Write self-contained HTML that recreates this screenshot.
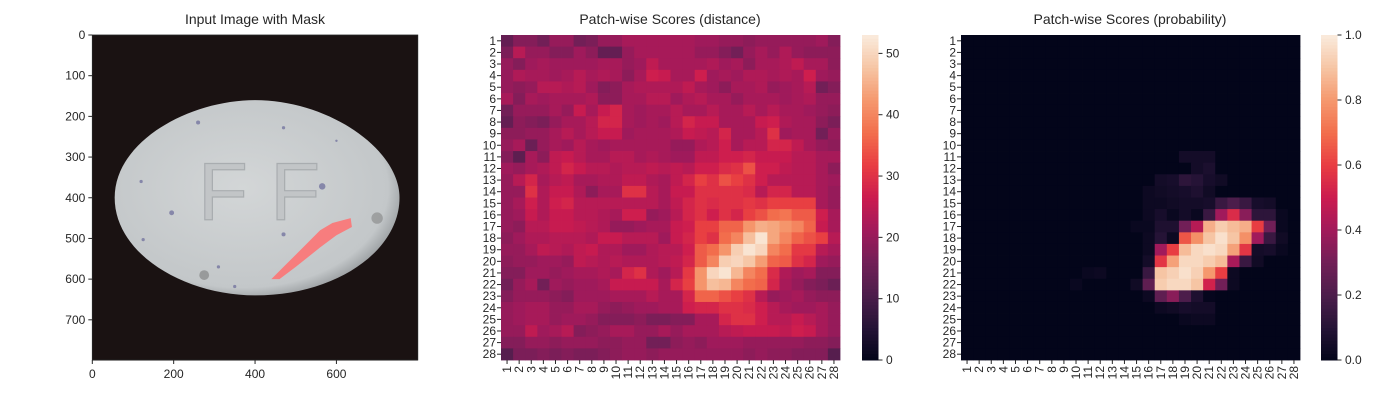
<!DOCTYPE html>
<html><head><meta charset="utf-8">
<style>
html,body{margin:0;padding:0;background:#fff;}
svg{display:block;font-family:"Liberation Sans",Arial,sans-serif;}
</style></head>
<body>
<svg id="fig" width="1400" height="400" viewBox="0 0 1400 400" xmlns="http://www.w3.org/2000/svg">
<defs>
<radialGradient id="pillGrad" cx="0.45" cy="0.45" r="0.6">
<stop offset="0" stop-color="#d3d6d7"/><stop offset="0.85" stop-color="#c3c7c9"/><stop offset="1" stop-color="#8d9194"/>
</radialGradient>
</defs>
<g id="p1">
<text x="255" y="24" font-size="14" text-anchor="middle" fill="#262626">Input Image with Mask</text>
<g transform="translate(92.3,35) scale(0.4069)">
<rect x="0" y="0" width="800" height="800" fill="#1a1212"/>
<path d="M55,400 C55,260 240,160 400,160 C580,160 755,280 755,400 C755,530 600,640 400,640 C230,640 55,540 55,400 Z" fill="url(#pillGrad)"/>
<text x="260" y="455" font-size="200" fill="#c2c5c7" stroke="#a9adb0" stroke-width="3">F F</text>
<g fill="#6a6a9a" opacity="0.7">
<circle cx="260" cy="215" r="5"/><circle cx="470" cy="228" r="4"/><circle cx="565" cy="372" r="8"/><circle cx="195" cy="437" r="6"/><circle cx="125" cy="503" r="4"/><circle cx="470" cy="490" r="5"/><circle cx="310" cy="570" r="4"/><circle cx="350" cy="618" r="4"/><circle cx="600" cy="260" r="3"/><circle cx="120" cy="360" r="4"/>
</g>
<circle cx="700" cy="450" r="14" fill="#777" opacity="0.5"/>
<circle cx="275" cy="590" r="12" fill="#6b6b6b" opacity="0.5"/>
<polygon points="440,600 470,570 530,510 560,480 590,462 635,450 638,472 600,492 560,522 500,570 460,600" fill="#ff7070" opacity="0.85"/>
</g>
<g id="p1axes" font-size="12" fill="#262626"></g>
</g>
<g id="p2">
<text x="670" y="24" font-size="14" text-anchor="middle" fill="#262626">Patch-wise Scores (distance)</text>
</g>
<g id="p3">
<text x="1130" y="24" font-size="14" text-anchor="middle" fill="#262626">Patch-wise Scores (probability)</text>
</g>
</svg>
<script>
const imgTicks = [0,100,200,300,400,500,600,700];
const imgXTicks = [0,200,400,600];
const distTicks = [0,10,20,30,40,50];
const probTicks = [0,0.2,0.4,0.6,0.8,1.0];
const distMax = 53;
const distRows = [
[14,18,18,16,20,20,16,17,20,20,22,22,22,22,22,22,21,21,20,20,19,20,20,20,20,20,21,18],
[17,24,20,20,18,18,21,19,14,14,20,22,22,22,22,22,20,20,18,16,20,22,20,23,20,19,19,19],
[20,18,21,22,21,21,21,21,22,22,20,21,25,22,22,22,22,23,21,22,19,22,22,23,25,22,22,19],
[20,23,22,22,21,22,24,22,23,22,19,22,27,26,22,22,27,21,22,21,23,23,22,23,22,27,21,20],
[20,19,20,24,24,23,24,21,18,19,22,23,23,23,23,25,22,21,19,22,22,23,20,21,22,24,16,18],
[22,18,22,21,22,22,22,23,19,19,22,22,24,24,21,23,24,22,22,20,22,22,22,21,22,23,20,20],
[16,20,20,20,22,20,26,22,26,28,22,21,22,22,24,22,22,24,22,22,24,22,24,22,22,21,20,19],
[14,19,18,17,20,22,22,24,28,28,22,21,22,21,24,28,26,26,22,22,22,26,27,23,22,22,19,17],
[19,19,20,20,22,24,22,24,26,26,21,22,22,22,23,26,25,24,28,22,22,24,30,21,22,22,16,20],
[20,22,15,20,22,21,24,22,21,22,22,22,22,22,20,20,23,24,27,22,24,24,28,28,25,22,20,19],
[18,13,22,19,25,26,24,22,22,24,24,22,23,22,21,21,25,25,27,27,28,26,26,26,24,24,22,22],
[21,20,22,23,25,28,26,24,24,23,24,24,25,24,25,24,27,27,29,30,34,27,27,25,24,24,22,19],
[20,24,28,22,24,25,22,22,23,23,25,25,23,22,25,28,32,30,34,32,30,27,24,24,24,24,22,21],
[20,20,30,23,26,26,23,19,22,22,30,30,24,22,26,26,30,30,30,30,29,24,28,28,24,24,22,20],
[20,22,27,23,27,28,24,24,24,24,24,24,24,22,25,28,30,29,30,30,31,30,32,32,32,32,22,20],
[20,21,26,23,26,26,24,24,23,22,27,27,20,21,24,28,30,27,30,28,32,34,37,38,35,35,27,22],
[20,19,24,24,26,26,25,24,23,20,20,21,22,22,26,27,32,32,36,36,42,45,44,42,40,36,26,22],
[19,21,23,23,24,24,24,23,26,26,24,24,24,21,26,28,32,30,37,40,47,52,44,40,36,34,32,24],
[20,20,22,25,24,23,25,26,23,23,21,21,23,24,24,27,35,37,42,49,52,50,40,37,31,31,24,22],
[19,20,20,21,21,20,25,24,23,24,23,23,23,24,25,28,35,40,49,50,48,43,36,35,30,28,21,20],
[18,18,21,21,20,21,22,22,23,22,28,30,23,21,24,31,42,50,52,46,40,37,29,23,21,22,18,18],
[16,20,22,16,21,20,21,21,22,26,26,26,26,22,28,32,42,47,46,40,37,36,28,22,20,18,17,15],
[18,20,20,20,19,18,21,21,21,22,22,22,24,22,22,28,36,36,34,32,30,24,20,21,22,20,19,19],
[20,21,22,22,20,20,22,22,20,19,20,21,21,22,22,27,28,28,30,30,29,27,24,22,21,21,22,20],
[20,21,22,22,20,21,21,20,18,18,18,19,17,17,18,18,22,22,28,30,30,27,24,24,26,24,22,20],
[20,20,25,21,22,24,18,19,20,22,22,20,20,22,20,22,22,22,24,25,26,26,26,25,27,26,22,20],
[18,18,20,20,19,20,20,20,19,19,20,20,16,16,19,20,19,21,21,21,20,20,20,20,20,19,19,18],
[12,17,17,18,17,18,17,17,18,19,20,20,19,20,20,20,20,20,20,20,19,20,19,19,18,18,18,12]
];
// probability: rows of [column(1-based), value]; all other cells are 0
const probEntries = [
[],[],[],[],[],[],[],[],[],[],
[[19,0.05],[20,0.05],[21,0.05]],
[[20,0.05],[21,0.07]],
[[17,0.05],[18,0.06],[19,0.12],[20,0.1],[21,0.06],[22,0.04]],
[[16,0.03],[17,0.04],[18,0.05],[19,0.06],[20,0.08],[21,0.04]],
[[16,0.03],[17,0.03],[18,0.04],[19,0.05],[20,0.05],[21,0.06],[22,0.15],[23,0.2],[24,0.15],[25,0.06],[26,0.05]],
[[16,0.03],[17,0.06],[18,0.02],[19,0.05],[20,0.02],[21,0.15],[22,0.4],[23,0.55],[24,0.35],[25,0.12],[26,0.12],[27,0.02]],
[[15,0.02],[16,0.02],[17,0.08],[18,0.08],[19,0.3],[20,0.45],[21,0.85],[22,0.92],[23,0.88],[24,0.85],[25,0.6],[26,0.3],[27,0.02]],
[[16,0.03],[17,0.1],[18,0.03],[19,0.65],[20,0.78],[21,0.9],[22,0.97],[23,0.9],[24,0.78],[25,0.4],[26,0.15],[27,0.04]],
[[16,0.03],[17,0.4],[18,0.6],[19,0.88],[20,0.95],[21,0.97],[22,0.95],[23,0.82],[24,0.58],[25,0.05],[26,0.06],[27,0.02]],
[[16,0.05],[17,0.58],[18,0.82],[19,0.95],[20,0.95],[21,0.92],[22,0.88],[23,0.42],[24,0.15],[25,0.04]],
[[11,0.02],[12,0.03],[16,0.15],[17,0.9],[18,0.93],[19,0.97],[20,0.93],[21,0.8],[22,0.6],[23,0.03]],
[[10,0.02],[15,0.04],[16,0.25],[17,0.92],[18,0.95],[19,0.95],[20,0.9],[21,0.52],[22,0.3],[23,0.03]],
[[16,0.03],[17,0.25],[18,0.35],[19,0.2],[20,0.08],[21,0.01]],
[[17,0.03],[18,0.04],[19,0.06],[20,0.05],[21,0.05]],
[[19,0.02],[20,0.03],[21,0.03]],
[],[],[]
];
const labels = Array.from({length:28},(_, i)=>String(i+1));

const NS="http://www.w3.org/2000/svg";
const svg=document.getElementById('fig');
function mk(tag,attrs,parent){const e=document.createElementNS(NS,tag);for(const k in attrs)e.setAttribute(k,attrs[k]);(parent||svg).appendChild(e);return e;}
const stops=[[0,3,5,26],[0.1,37,19,54],[0.2,76,29,75],[0.3,113,31,87],[0.4,161,26,91],[0.5,203,27,79],[0.6,232,61,66],[0.7,242,110,76],[0.8,245,152,110],[0.9,246,197,164],[1,250,235,221]];
function rocket(t){t=Math.max(0,Math.min(1,t));for(let i=1;i<stops.length;i++){if(t<=stops[i][0]){const a=stops[i-1],b=stops[i],f=(t-a[0])/(b[0]-a[0]);return `rgb(${Math.round(a[1]+f*(b[1]-a[1]))},${Math.round(a[2]+f*(b[2]-a[2]))},${Math.round(a[3]+f*(b[3]-a[3]))})`;}}return 'rgb(250,235,221)';}

const p1=document.getElementById('p1axes');
const ix0=92.3, iy0=35, isc=325.5/800;
mk('rect',{x:ix0,y:iy0,width:325.5,height:325,fill:'none',stroke:'#262626','stroke-width':0.8},p1);
imgTicks.forEach(v=>{const y=iy0+v*isc;
 const l=mk('line',{x1:ix0-4,x2:ix0,y1:y,y2:y,stroke:'#262626'},p1);
 
 
 const t=mk('text',{x:ix0-7,y:y+4,'text-anchor':'end'},p1);t.textContent=v;
 
 });
imgXTicks.forEach(v=>{const x=ix0+v*isc;
 mk('line',{x1:x,x2:x,y1:360,y2:364,stroke:'#262626'},p1);
 const t=mk('text',{x:x,y:378,'text-anchor':'middle'},p1);t.textContent=v;
 
 });

function heatmap(parent,x0,y0,w,h,valueAt,vmax,cbx,ticks,fmt,name){
 const g=document.getElementById(parent);
 const cw=w/28,ch=h/28;
 for(let r=0;r<28;r++)for(let c=0;c<28;c++){
  const v=valueAt(r,c);
  const rc=mk('rect',{x:x0+c*cw,y:y0+r*ch,width:cw+0.4,height:ch+0.4,fill:rocket(v/vmax)},g);
  
  
 }
 labels.forEach((lab,i)=>{
  const y=y0+(i+0.5)*ch;
  mk('line',{x1:x0-4,x2:x0,y1:y,y2:y,stroke:'#262626'},g);
  const t=mk('text',{x:x0-5,y:y+4,'text-anchor':'end','font-size':12,fill:'#262626'},g);t.textContent=lab;
  
  
  const x=x0+(i+0.5)*cw;
  mk('line',{x1:x,x2:x,y1:y0+h,y2:y0+h+4,stroke:'#262626'},g);
  const tx=mk('text',{x:0,y:0,'text-anchor':'end','font-size':12,fill:'#262626',transform:`translate(${x+4},${y0+h+6}) rotate(-90)`},g);tx.textContent=lab;
  
  
 });
 const n=100;
 for(let i=0;i<n;i++){
  const cr=mk('rect',{x:cbx,y:y0+h-(i+1)*h/n,width:16.5,height:h/n+0.5,fill:rocket((i+0.5)/n)},g);
  
  
 }
 ticks.forEach(v=>{const y=y0+h-v/vmax*h;
  mk('line',{x1:cbx+16.5,x2:cbx+20.5,y1:y,y2:y,stroke:'#262626'},g);
  const t=mk('text',{x:cbx+24,y:y+4,'font-size':12,fill:'#262626'},g);t.textContent=fmt(v);
  
  });
}
heatmap('p2',501,35,339,325,(r,c)=>distRows[r][c],distMax,862,distTicks,v=>String(v),'distance');
heatmap('p3',961,35,339,325,(r,c)=>{const e=probEntries[r].find(p=>p[0]===c+1);return e?e[1]:0;},1,1321,probTicks,v=>v.toFixed(1),'probability');
</script>
</body></html>
